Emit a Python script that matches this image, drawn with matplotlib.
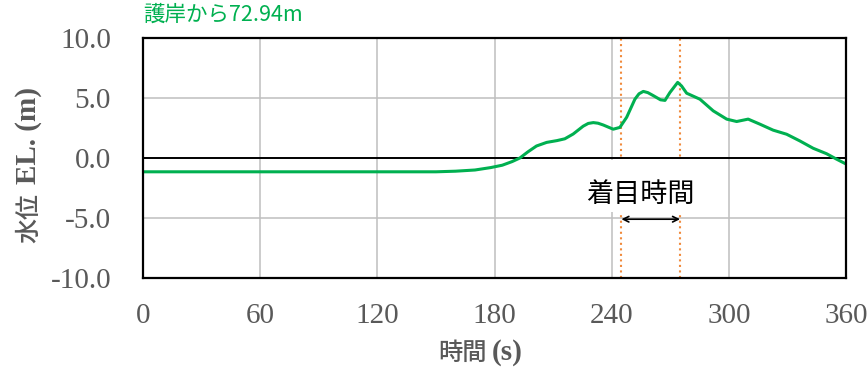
import matplotlib
matplotlib.use("Agg")
import matplotlib.pyplot as plt
from matplotlib.patches import Rectangle

# water level time series
times = [0, 60, 120, 150, 160, 170, 178, 184, 189, 193, 197, 201.5, 206.7, 212, 216,
         220.3, 225.4, 228, 230.6, 233, 235.7, 240.8, 244.2, 247.7, 251.9, 254, 256.2,
         258.5, 261.3, 265, 267.3, 269.8, 273.8, 275.8, 278.4, 285.2, 292, 298.9, 304,
         309.9, 315.9, 322.7, 329.6, 336.4, 343.2, 350, 355.2, 360]
level = [-1.15, -1.15, -1.15, -1.15, -1.1, -1.0, -0.8, -0.6, -0.3, 0.0, 0.5, 1.0, 1.3,
         1.45, 1.6, 2.0, 2.65, 2.88, 2.95, 2.9, 2.75, 2.4, 2.55, 3.4, 4.9, 5.35, 5.55,
         5.45, 5.2, 4.85, 4.8, 5.45, 6.3, 6.0, 5.4, 4.9, 3.93, 3.24, 3.04, 3.24, 2.82,
         2.32, 1.98, 1.42, 0.81, 0.36, -0.1, -0.5]

focus = [245, 275]
xticks = [0, 60, 120, 180, 240, 300, 360]
yticks = [-10, -5, 0, 5, 10]
title = "護岸から72.94m"

green = "#00B050"
gray = "#595959"

fig = plt.figure(figsize=(8.68, 3.71), dpi=100)
ax = fig.add_axes([143 / 868, 1 - 278 / 371, (846 - 143) / 868, (278 - 38) / 371])

ax.set_xlim(0, 360)
ax.set_ylim(-10, 10)
ax.set_xticks(xticks)
ax.set_yticks(yticks)
ax.set_xticklabels([str(v) for v in xticks])
ax.set_yticklabels([f"{v:.1f}" for v in yticks])
ax.tick_params(length=0, labelsize=21, labelcolor=gray)
ax.tick_params(axis="y", pad=23)
ax.tick_params(axis="x", pad=18)
for lab in ax.get_xticklabels() + ax.get_yticklabels():
    lab.set_family("Liberation Serif")

ax.grid(True, color="#BFBFBF", linewidth=1.1, zorder=0)
ax.set_axisbelow(True)
for s in ax.spines.values():
    s.set_linewidth(1.6)
    s.set_color("black")
    s.set_zorder(6)

for t in focus:
    ax.axvline(t, color="#F08A3C", linestyle=":", linewidth=1.5, zorder=2)

# white label box behind "着目時間"
ax.add_patch(Rectangle((220, -4.5), 67, 4.3, facecolor="white", edgecolor="none",
                       zorder=3))
ax.text(254.5, -3.0, "着目時間", fontsize=19.5, family="Noto Sans CJK JP",
        ha="center", va="center", zorder=4)
ax.annotate("", xy=(focus[0], -5.1), xytext=(focus[1], -5.1),
            arrowprops=dict(arrowstyle="<->", color="black", lw=1.2,
                            shrinkA=0, shrinkB=0), zorder=4)

ax.axhline(0, color="black", linewidth=1.4, zorder=4)
ax.plot(times, level, color=green, linewidth=2.2, zorder=5)

# axis titles: japanese part sans, latin part bold serif
W, H = 868, 371
fig.text(487 / W, 1 - 360 / H, "時間", family="Noto Sans CJK JP", fontsize=17.5,
         fontweight="medium", color=gray, ha="right", va="baseline")
fig.text(492 / W, 1 - 360 / H, "(s)", family="Liberation Serif", fontsize=21,
         fontweight="bold", color=gray, ha="left", va="baseline")
fig.text(36 / W, 1 - 243 / H, "水位", family="Noto Sans CJK JP", fontsize=18,
         fontweight="medium", color=gray, rotation=90, rotation_mode="anchor",
         ha="left", va="baseline")
fig.text(36 / W, 1 - 184 / H, "EL. (m)", family="Liberation Serif", fontsize=21,
         fontweight="bold", color=gray, rotation=90, rotation_mode="anchor",
         ha="left", va="baseline")

fig.text(143 / W, 1 - 15 / H, title, color=green, fontsize=15.5,
         family="Noto Sans CJK JP", ha="left", va="center")

fig.savefig("out.png", dpi=100)
